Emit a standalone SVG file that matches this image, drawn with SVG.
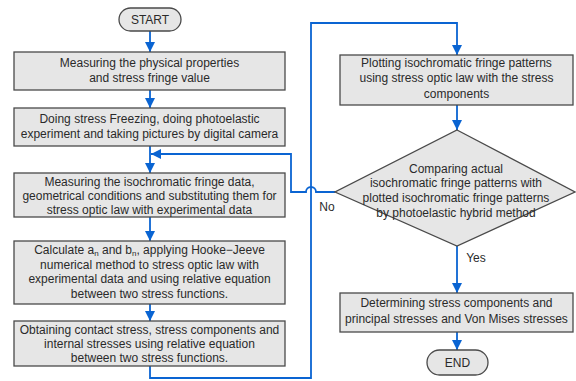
<svg xmlns="http://www.w3.org/2000/svg" width="576" height="381" viewBox="0 0 576 381">
<defs>
<marker id="ah" markerUnits="userSpaceOnUse" markerWidth="10" markerHeight="12" refX="10" refY="5" orient="auto">
<path d="M0,0 L10,5 L0,10 Z" fill="#0a64d2"/>
</marker>
<style>
.box{fill:#e6e6e6;stroke:#4a4a4a;stroke-width:1.3}
.t{font-family:"Liberation Sans",Arial,sans-serif;font-size:12px;fill:#2a2a2a;text-anchor:middle}
.c{fill:none;stroke:#0a64d2;stroke-width:1.8}
</style>
</defs>
<rect width="576" height="381" fill="#ffffff"/>
<g id="connectors">
<path class="c" d="M150,31 V52" marker-end="url(#ah)"/>
<path class="c" d="M150,90 V108" marker-end="url(#ah)"/>
<path class="c" d="M150,146 V173" marker-end="url(#ah)"/>
<path class="c" d="M150,217 V241" marker-end="url(#ah)"/>
<path class="c" d="M150,304 V321" marker-end="url(#ah)"/>
<path class="c" d="M150,366 V378 H311 V23 H457 V55" marker-end="url(#ah)"/>
<path class="c" d="M457,105 V130" marker-end="url(#ah)"/>
<path class="c" d="M457,246 V293" marker-end="url(#ah)"/>
<path class="c" d="M457,332 V350" marker-end="url(#ah)"/>
<path class="c" d="M335,192 H316 A5,5 0 0 0 306,192 H291 V154 H151" marker-end="url(#ah)"/>
<text class="t" x="327" y="211">No</text>
<text class="t" x="476" y="262">Yes</text>
</g>
<g id="start">
<rect class="box" x="119" y="8" width="62" height="23" rx="11.5"/>
<text class="t" x="150" y="24">START</text>
</g>
<g id="box1">
<rect class="box" x="14" y="52" width="271" height="38"/>
<text class="t" x="149.5" y="67">Measuring the physical properties</text>
<text class="t" x="149.5" y="82">and stress fringe value</text>
</g>
<g id="box2">
<rect class="box" x="14" y="108" width="271" height="38"/>
<text class="t" x="149.5" y="123">Doing stress Freezing, doing photoelastic</text>
<text class="t" x="149.5" y="138">experiment and taking pictures by digital camera</text>
</g>
<g id="box3">
<rect class="box" x="14" y="173" width="271" height="44"/>
<text class="t" x="149.5" y="186">Measuring the isochromatic fringe data,</text>
<text class="t" x="149.5" y="200">geometrical conditions and substituting them for</text>
<text class="t" x="149.5" y="214">stress optic law  with experimental data</text>
</g>
<g id="box4">
<rect class="box" x="14" y="241" width="271" height="63"/>
<text class="t" x="149.5" y="254">Calculate a<tspan font-size="8" dy="2">n</tspan><tspan dy="-2"> and b</tspan><tspan font-size="8" dy="2">n</tspan><tspan dy="-2">, applying Hooke−Jeeve</tspan></text>
<text class="t" x="149.5" y="269">numerical method to stress optic law with</text>
<text class="t" x="149.5" y="283">experimental data and using relative equation</text>
<text class="t" x="149.5" y="298">between two stress functions.</text>
</g>
<g id="box5">
<rect class="box" x="14" y="321" width="271" height="45"/>
<text class="t" x="149.5" y="334">Obtaining contact stress, stress components and</text>
<text class="t" x="149.5" y="348">internal stresses using relative equation</text>
<text class="t" x="149.5" y="362">between two stress functions.</text>
</g>
<g id="box6">
<rect class="box" x="340" y="55" width="233" height="50"/>
<text class="t" x="456.5" y="67">Plotting isochromatic fringe patterns</text>
<text class="t" x="456.5" y="82">using stress optic law with the stress</text>
<text class="t" x="456.5" y="98">components</text>
</g>
<g id="decision">
<polygon class="box" points="457,130 575,192 457,246 335,192"/>
<text class="t" x="456" y="173">Comparing actual</text>
<text class="t" x="456" y="187">isochromatic fringe patterns with</text>
<text class="t" x="456" y="202">plotted isochromatic fringe patterns</text>
<text class="t" x="456" y="217">by photoelastic hybrid method</text>
</g>
<g id="box7">
<rect class="box" x="340" y="293" width="233" height="39"/>
<text class="t" x="456.5" y="307">Determining stress components and</text>
<text class="t" x="456.5" y="323">principal stresses and Von Mises stresses</text>
</g>
<g id="end">
<rect class="box" x="427" y="350" width="61" height="25" rx="12.5"/>
<text class="t" x="457.5" y="367">END</text>
</g>
</svg>
